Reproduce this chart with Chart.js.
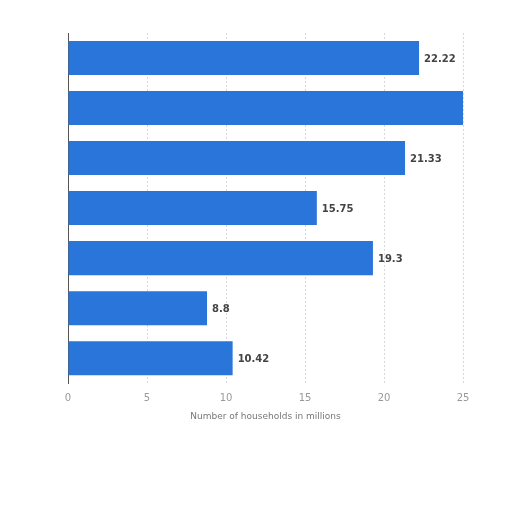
<!DOCTYPE html>
<html>
<head>
<meta charset="utf-8">
<script src="https://cdn.jsdelivr.net/npm/chart.js@4"></script>
<style>
html,body{margin:0;padding:0;background:#fff;}
#wrap{width:512px;height:512px;}
</style>
</head>
<body>
<div id="wrap"><canvas id="c" width="512" height="512"></canvas></div>
<script>
const categories = ["A", "B", "C", "D", "E", "F", "G"];
const values = [22.22, 26.5, 21.33, 15.75, 19.3, 8.8, 10.42];
const valueLabels = ["22.22", "", "21.33", "15.75", "19.3", "8.8", "10.42"];
const xTicks = [0, 5, 10, 15, 20, 25];
const axisTitle = "Number of households in millions";

const labelPlugin = {
  id: 'barLabels',
  afterDatasetsDraw(chart) {
    const ctx = chart.ctx;
    const meta = chart.getDatasetMeta(0);
    const xMax = chart.scales.x.max;
    ctx.save();
    ctx.font = 'bold 10px "DejaVu Sans", sans-serif';
    ctx.fillStyle = '#444';
    ctx.textBaseline = 'middle';
    meta.data.forEach((bar, i) => {
      if (values[i] > xMax || !valueLabels[i]) return;
      ctx.fillText(valueLabels[i], bar.x + 5, bar.y + 1);
    });
    ctx.restore();
  }
};

new Chart(document.getElementById('c'), {
  type: 'bar',
  data: {
    labels: categories,
    datasets: [{
      data: values,
      backgroundColor: '#2a75da',
      borderWidth: 0,
      categoryPercentage: 1.0,
      barPercentage: 0.68
    }]
  },
  options: {
    indexAxis: 'y',
    responsive: false,
    animation: false,
    devicePixelRatio: 1,
    layout: { padding: { left: 68, right: 49, top: 33, bottom: 90 } },
    plugins: { legend: { display: false }, tooltip: { enabled: false } },
    scales: {
      x: {
        min: 0, max: 25,
        afterBuildTicks(scale) { scale.ticks = xTicks.map(v => ({ value: v })); },
        ticks: { color: '#999', font: { family: 'DejaVu Sans', size: 10 }, padding: 9 },
        grid: { color: '#d8d8d8', drawTicks: false, tickLength: 0 },
        border: { display: false, dash: [2, 2] },
        title: { display: true, text: axisTitle, color: '#777', font: { family: 'DejaVu Sans', size: 9 }, padding: { top: -2, bottom: 0 } }
      },
      y: {
        ticks: { display: false },
        grid: { display: false, drawTicks: false },
        border: { display: true, color: '#555', width: 1 }
      }
    }
  },
  plugins: [labelPlugin]
});
</script>
</body>
</html>
